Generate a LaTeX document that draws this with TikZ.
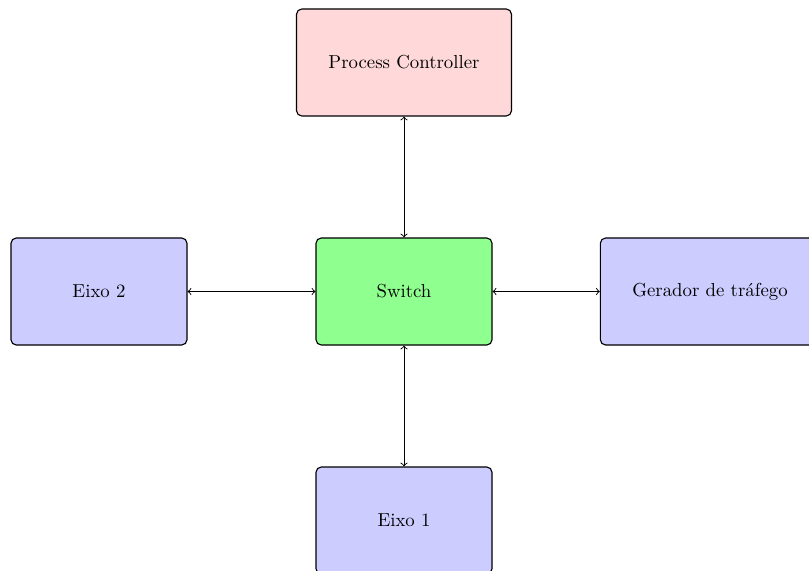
\documentclass[tikz,border=0pt]{standalone}
\usetikzlibrary{arrows}
\begin{document}
\begin{tikzpicture}[x=0.5319pt,y=-0.5319pt,
  box/.style={draw=black,line width=0.6pt,rounded corners=2.8pt,minimum height=107*0.5319pt,minimum width=176*0.5319pt,inner xsep=17pt,align=center},
  link/.style={<->,line width=0.5pt}]
\useasboundingbox (0,0) rectangle (809,571);
\node[box,fill=red!15] (pc) at (404,62.5) {Process Controller};
\node[box,fill=green!44] (sw) at (404,291.5) {Switch};
\node[box,fill=blue!20] (e2) at (99,291.5) {Eixo 2};
\node[box,fill=blue!20] (gt) at (710,291.5) {Gerador de tráfego};
\node[box,fill=blue!20] (e1) at (404,520.5) {Eixo 1};
\draw[link] (pc) -- (sw);
\draw[link] (e2) -- (sw);
\draw[link] (sw) -- (gt);
\draw[link] (sw) -- (e1);
\end{tikzpicture}
\end{document}
